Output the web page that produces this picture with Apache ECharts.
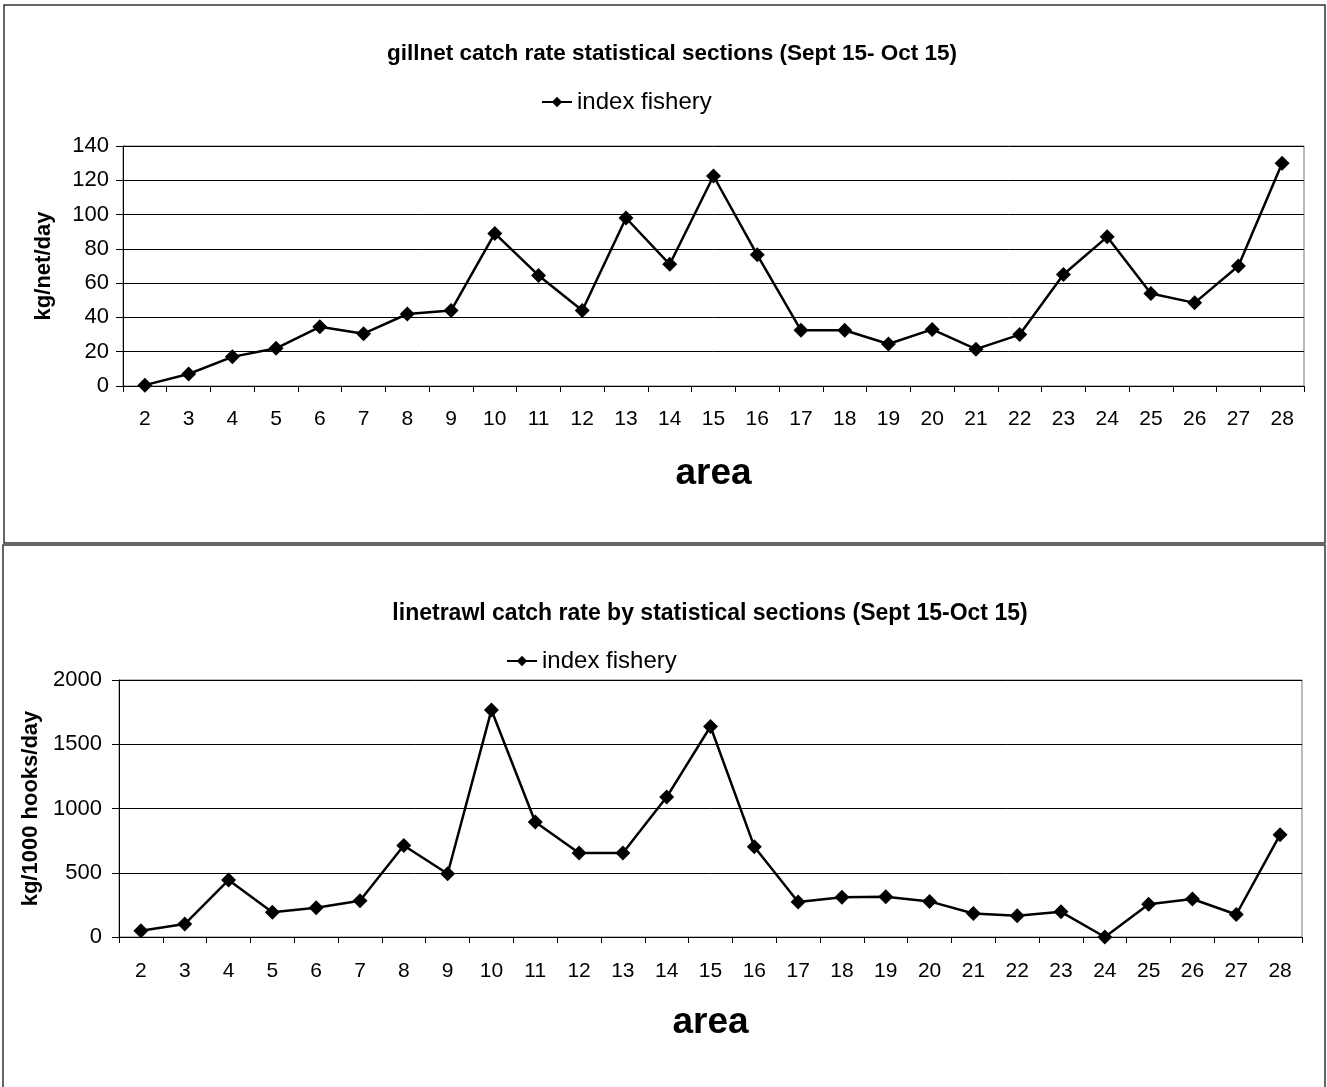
<!DOCTYPE html>
<html>
<head>
<meta charset="utf-8">
<script src="https://cdn.jsdelivr.net/npm/echarts@6/dist/echarts.min.js"></script>
<style>
html,body{margin:0;padding:0;background:#fff;}
#c{width:1327px;height:1087px;}
</style>
</head>
<body>
<div id="c"></div>
<script>
const areas = ['2','3','4','5','6','7','8','9','10','11','12','13','14','15','16','17','18','19','20','21','22','23','24','25','26','27','28'];
const gillnetRate = [0.5, 7, 17, 22, 34.5, 30.5, 42, 44, 89, 64.5, 44, 98, 71, 122.5, 76.5, 32.5, 32.5, 24.5, 33, 21.5, 30, 65, 87, 54, 48.5, 70, 130];
const linetrawlRate = [49, 101, 443, 192, 228, 282, 712, 492, 1766, 895, 654, 654, 1089, 1638, 703, 272, 309, 314, 277, 183, 165, 196, 0, 254, 296, 175, 796];
const seriesName = 'index fishery';
const topTitle = 'gillnet catch rate statistical sections (Sept 15- Oct 15)';
const bottomTitle = 'linetrawl catch rate by statistical sections (Sept 15-Oct 15)';
const topYName = 'kg/net/day';
const bottomYName = 'kg/1000 hooks/day';
const xName = 'area';

const FONT = '"Liberation Sans", Arial, sans-serif';
const chart = echarts.init(document.getElementById('c'));

function xAxisCfg(gridIndex, margin, gap) {
  return {
    type: 'category', gridIndex: gridIndex, data: areas, boundaryGap: true,
    name: xName, nameLocation: 'middle', nameGap: gap,
    nameTextStyle: {fontFamily: FONT, fontWeight: 'bold', fontSize: 37, color: '#000'},
    axisLine: {lineStyle: {color: '#000', width: 1}},
    axisTick: {show: true, length: 6, lineStyle: {color: '#000'}},
    axisLabel: {fontFamily: FONT, fontSize: 21, color: '#000', margin: margin, interval: 0},
    splitLine: {show: false}
  };
}
function yAxisCfg(gridIndex, max, interval, name, gap, margin) {
  return {
    type: 'value', gridIndex: gridIndex, min: 0, max: max, interval: interval,
    name: name, nameLocation: 'middle', nameGap: gap, nameRotate: 90,
    nameTextStyle: {fontFamily: FONT, fontWeight: 'bold', fontSize: 22, color: '#000'},
    axisLine: {show: true, lineStyle: {color: '#000', width: 1}},
    axisTick: {show: true, length: 7, lineStyle: {color: '#000'}},
    axisLabel: {fontFamily: FONT, fontSize: 22, color: '#000', margin: margin,
                formatter: function (v) { return String(v); }},
    splitLine: {show: true, lineStyle: {color: '#000', width: 1}}
  };
}
function lineSeries(idx, data) {
  return {
    name: seriesName, type: 'line', xAxisIndex: idx, yAxisIndex: idx, data: data,
    symbol: 'diamond', symbolSize: 15, showAllSymbol: true,
    lineStyle: {color: '#000', width: 2.5},
    itemStyle: {color: '#000'},
    animation: false
  };
}

chart.setOption({
  backgroundColor: '#fff',
  animation: false,
  graphic: [
    {type: 'rect', shape: {x: 4, y: 5, width: 1321, height: 538}, style: {fill: 'none', stroke: '#333', lineWidth: 1.5}, z: -10},
    {type: 'rect', shape: {x: 3, y: 545, width: 1322, height: 545}, style: {fill: 'none', stroke: '#333', lineWidth: 1.5}, z: -10}
  ],
  title: [
    {text: topTitle, left: 667, top: 37, textAlign: 'center',
     textStyle: {fontFamily: FONT, fontWeight: 'bold', fontSize: 22.5, color: '#000'}},
    {text: bottomTitle, left: 705, top: 597, textAlign: 'center',
     textStyle: {fontFamily: FONT, fontWeight: 'bold', fontSize: 23, color: '#000'}}
  ],
  legend: [
    {data: [seriesName], left: 536, top: 85, itemWidth: 30, itemHeight: 13, itemGap: 4,
     textStyle: {fontFamily: FONT, fontSize: 24, color: '#000'}},
    {data: [seriesName], left: 501, top: 644, itemWidth: 30, itemHeight: 13, itemGap: 4,
     textStyle: {fontFamily: FONT, fontSize: 24, color: '#000'}}
  ],
  grid: [
    {left: 123, top: 146, width: 1181, height: 240, show: true, borderColor: '#777', borderWidth: 1, backgroundColor: 'transparent'},
    {left: 119, top: 680, width: 1183, height: 257, show: true, borderColor: '#777', borderWidth: 1, backgroundColor: 'transparent'}
  ],
  xAxis: [xAxisCfg(0, 23, 69), xAxisCfg(1, 24, 67)],
  yAxis: [yAxisCfg(0, 140, 20, topYName, 68, 14), yAxisCfg(1, 2000, 500, bottomYName, 73, 17)],
  series: [lineSeries(0, gillnetRate), lineSeries(1, linetrawlRate)]
});
</script>
</body>
</html>
